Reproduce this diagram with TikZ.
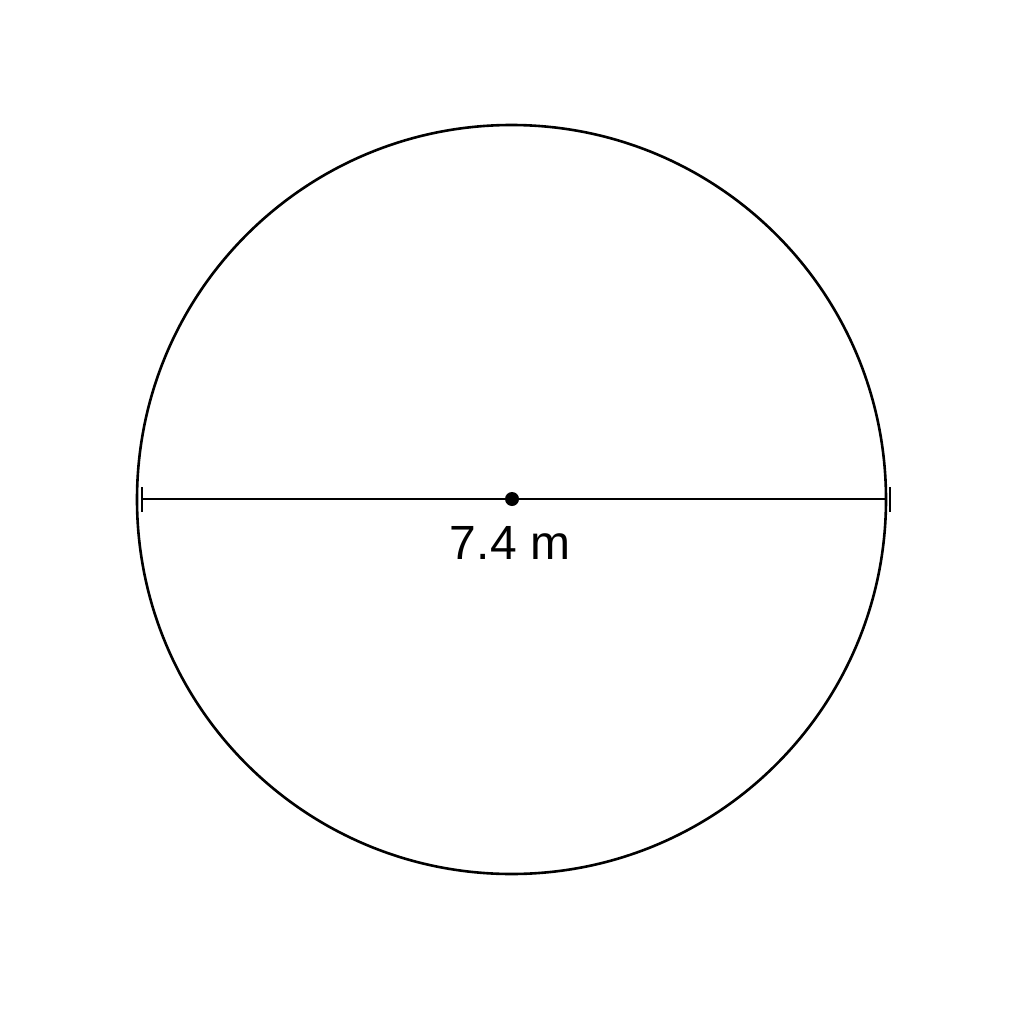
\documentclass[tikz,border=0pt]{standalone}
\usepackage{fontspec}
\setmainfont{Liberation Sans}
\begin{document}
\begin{tikzpicture}[x=1pt,y=-1pt,
  outline/.style={draw=black,line width=2.6pt},
  dimline/.style={draw=black,line width=2pt},
  tick/.style={draw=black,line width=1.4pt},
  centerdot/.style={circle,fill=black,inner sep=0pt,minimum size=14pt},
  lbl/.style={font=\fontsize{48}{58}\selectfont,text=black,inner sep=0pt,anchor=base}]
\useasboundingbox[fill=white] (0,0) rectangle (1024,1024);
\draw[outline] (511.5,499.5) circle[radius=374.5];
\coordinate (L) at (142,499);
\coordinate (R) at (885,499);
\coordinate (Lt) at (142,487);
\coordinate (Lb) at (142,512);
\coordinate (Rt) at (890,487);
\coordinate (Rb) at (890,512);
\node[centerdot] (c) at (512,499) {};
\draw[dimline] (L) -- (R);
\draw[tick] (Lt) -- (Lb);
\draw[tick] (Rt) -- (Rb);
\node[lbl] (t) at (510,559) {7.4 m};
\end{tikzpicture}
\end{document}
